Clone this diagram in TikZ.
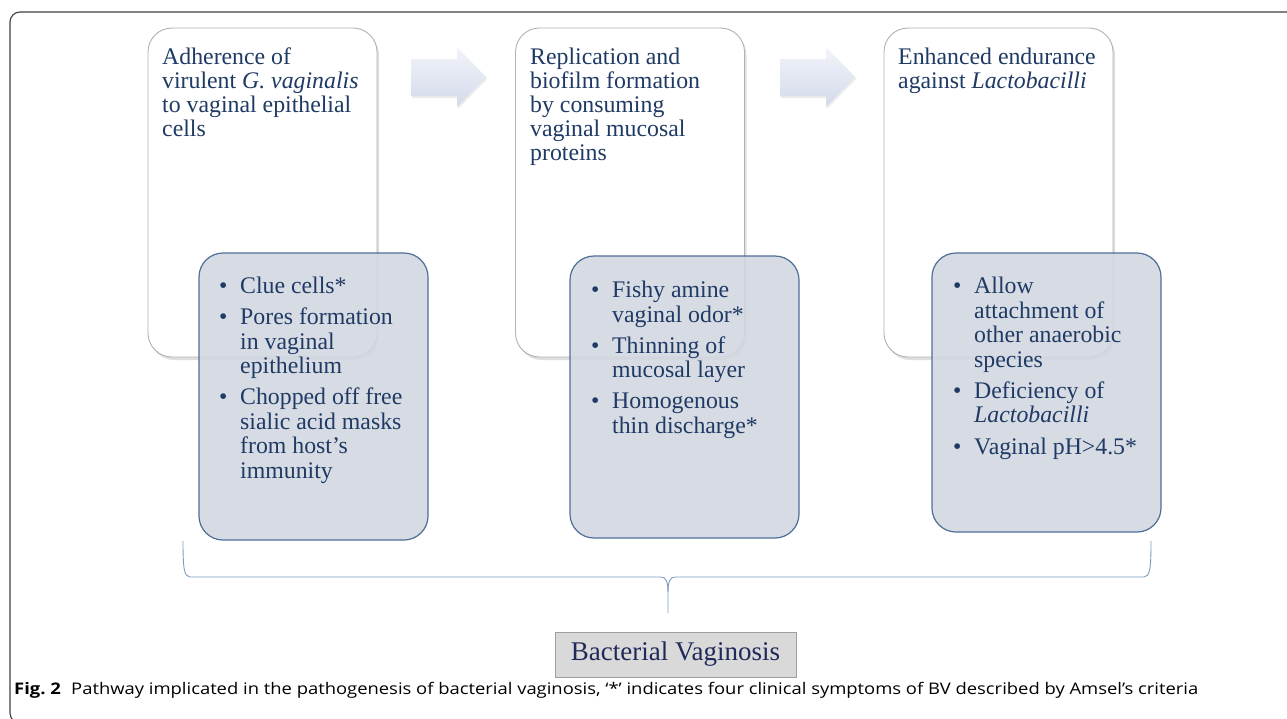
\documentclass[tikz,border=0pt]{standalone}
\usepackage{fontspec}
\setmainfont{Liberation Serif}
\newfontfamily\capfont{Open Sans}
\usetikzlibrary{positioning,shadows}
\definecolor{boxtext}{HTML}{1F3A64}
\definecolor{signfill}{HTML}{D2D7E1}
\definecolor{signedge}{HTML}{4F6E98}
\definecolor{arrowlight}{HTML}{F2F4FA}
\definecolor{arrowdark}{HTML}{D3DAEA}
\definecolor{bracecol}{HTML}{7D9CC4}
\definecolor{bvgray}{HTML}{D9D9D9}
\definecolor{bvtext}{HTML}{1F2A5A}
\newcommand{\bul}{\makebox[21pt][l]{\textbullet}}
\newcommand{\ind}{\hspace*{21pt}}
\tikzset{
  stagebox/.style={draw=gray!60, line width=0.9pt, fill=white, rounded corners=24pt,
    minimum width=229pt, minimum height=329pt,
    drop shadow={shadow xshift=2pt, shadow yshift=-3pt, opacity=0.25}},
  signbox/.style={draw=signedge, line width=1.2pt, fill=signfill, fill opacity=0.88,
    rounded corners=24pt, minimum width=229pt},
  stagetext/.style={anchor=north west, inner sep=0pt, align=left, text=boxtext,
    font=\fontsize{23.8}{24}\selectfont},
  signtext/.style={anchor=north west, inner sep=0pt, align=left, text=boxtext,
    font=\fontsize{23.8}{24.5}\selectfont},
}

\begin{document}
\begin{tikzpicture}[x=1pt,y=-1pt]
    \useasboundingbox (0,0) rectangle (1287,718);
    \clip (0,0) rectangle (1287,718);
    \fill[white] (0,0) rectangle (1287,718);

    % frame of the figure
    \draw[line width=1.1pt, black!75, rounded corners=10pt] (10,12) rectangle (1330,723);

    % the three stages
    \node[stagebox] (stageA) at (262.5,192.5) {};
    \node[stagebox] (stageB) at (630,192.5) {};
    \node[stagebox] (stageC) at (998.5,192.5) {};

    \foreach \ax in {0,369}{
      \shade[top color=arrowlight, bottom color=arrowdark, drop shadow={shadow xshift=1pt, shadow yshift=-2pt, opacity=0.15}]
        (411+\ax,59) -- (457+\ax,59) -- (457+\ax,47) -- (486+\ax,77) -- (457+\ax,107) -- (457+\ax,96) -- (411+\ax,96) -- cycle;
    }

    \node[stagetext] (textA) at (162,48) {Adherence of\\virulent \textit{G. vaginalis}\\to vaginal epithelial\\cells};
    \node[stagetext] (textB) at (530,48) {Replication and\\biofilm formation\\by consuming\\vaginal mucosal\\proteins};
    \node[stagetext] (textC) at (898,48) {Enhanced endurance\\against \textit{Lactobacilli}};

    % signs of each stage
    \node[signbox, minimum height=287pt] (signA) at (313.5,396.5) {};
    \node[signbox, minimum height=282pt] (signB) at (684.5,397) {};
    \node[signbox, minimum height=279pt] (signC) at (1046.5,392.5) {};

    \node[signtext] (listA) at (219,277) {\bul Clue cells*\\[6.5pt]
      \bul Pores formation\\ \ind in vaginal\\ \ind epithelium\\[6.5pt]
      \bul Chopped off free\\ \ind sialic acid masks\\ \ind from host’s\\ \ind immunity};
    \node[signtext] (listB) at (591,281) {\bul Fishy amine\\ \ind vaginal odor*\\[6.5pt]
      \bul Thinning of\\ \ind mucosal layer\\[6.5pt]
      \bul Homogenous\\ \ind thin discharge*};
    \node[signtext] (listC) at (953,277) {\bul Allow\\ \ind attachment of\\ \ind other anaerobic\\ \ind species\\[6.5pt]
      \bul Deficiency of\\ \ind \textit{Lactobacilli}\\[7pt]
      \bul Vaginal pH>4.5*};

    % brace
    \draw[bracecol, line width=0.9pt] (183,541) .. controls (183,568) and (184,577) .. (190,577)
      -- (661,577) .. controls (666,577) and (668,582) .. (668,592) -- (668,613);
    \draw[bracecol, line width=0.9pt] (668,592) .. controls (668,582) and (670,577) .. (675,577)
      -- (1144,577) .. controls (1150,577) and (1151,568) .. (1151,541);
    \coordinate (braceTip) at (668,613);

    \node[draw=gray!75, line width=0.9pt, fill=bvgray, minimum width=241pt, minimum height=45pt,
      text=bvtext, font=\fontsize{27}{30}\selectfont] (bv) at (675.5,654.5) {Bacterial Vaginosis};

    % caption
    \node[anchor=base west, inner sep=0pt, font=\capfont\fontsize{16}{19}\selectfont] (caption) at (14,694)
      {\resizebox{1184pt}{\height}{\textbf{Fig.~2}\hspace{9pt}Pathway implicated in the pathogenesis of bacterial vaginosis, ‘*’ indicates four clinical symptoms of BV described by Amsel’s criteria}};
\end{tikzpicture}
\end{document}
